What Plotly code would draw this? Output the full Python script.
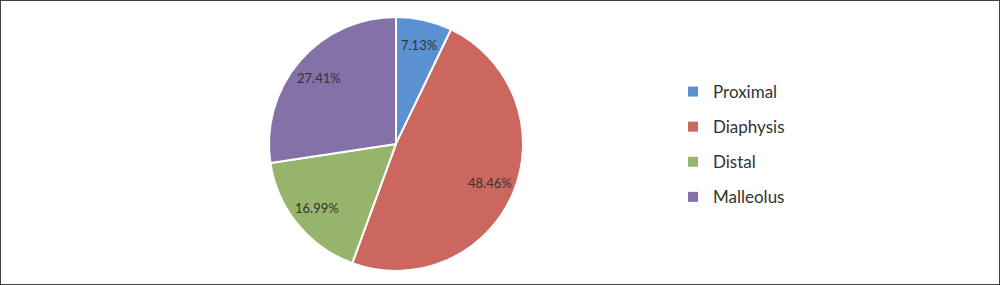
import math
import plotly.graph_objects as go

categories = ["Proximal", "Diaphysis", "Distal", "Malleolus"]
percentages = [7.13, 48.46, 16.99, 27.41]
colors = ["#5A91D0", "#CB675E", "#97B46D", "#8471A8"]

FONT = "Lato, Noto Sans, sans-serif"
dom_x = [0.269, 0.523]
dom_y = [0.049, 0.941]
W, H = 1000, 285

fig = go.Figure()
fig.add_trace(go.Pie(
    labels=categories,
    values=percentages,
    sort=False,
    direction="clockwise",
    rotation=0,
    marker=dict(colors=colors, line=dict(color="white", width=2)),
    textinfo="none",
    domain=dict(x=dom_x, y=dom_y),
    hoverinfo="label+percent",
    showlegend=False,
))

# legend entries (one group each to control vertical spacing)
for cat, col in zip(categories, colors):
    fig.add_trace(go.Scatter(
        x=[None], y=[None], mode="markers", name=cat,
        marker=dict(symbol="square", size=10, color=col),
        legendgroup=cat, showlegend=True,
    ))

# data labels placed along each slice's mid-angle (Excel "best fit" style)
cx = (dom_x[0] + dom_x[1]) / 2 * W
cy = (1 - (dom_y[0] + dom_y[1]) / 2) * H
R = min((dom_x[1] - dom_x[0]) * W, (dom_y[1] - dom_y[0]) * H) / 2
total = sum(percentages)
cum = 0.0
annotations = []
for v in percentages:
    mid = (cum + v / 2) / total * 2 * math.pi
    cum += v
    r = 0.8 * R
    px = cx + r * math.sin(mid)
    py = cy - r * math.cos(mid)
    annotations.append(dict(
        x=px / W, y=1 - py / H, xref="paper", yref="paper",
        text=f"{v:.2f}%", showarrow=False,
        font=dict(family=FONT, size=13, color="#333333"),
        xanchor="center", yanchor="middle",
    ))

fig.update_layout(
    width=W, height=H,
    margin=dict(l=0, r=0, t=0, b=0),
    paper_bgcolor="white",
    plot_bgcolor="white",
    font=dict(family=FONT, color="#333333"),
    xaxis=dict(visible=False),
    yaxis=dict(visible=False),
    legend=dict(
        x=0.673, y=0.493, xanchor="left", yanchor="middle",
        font=dict(size=17, color="#333333"),
        itemwidth=30,
        tracegroupgap=10,
        bgcolor="rgba(0,0,0,0)",
    ),
    annotations=annotations,
    shapes=[dict(type="rect", xref="paper", yref="paper", x0=0, x1=1, y0=0, y1=1,
                 line=dict(color="#404040", width=2), layer="above")],
)

fig.write_html("out.html")
